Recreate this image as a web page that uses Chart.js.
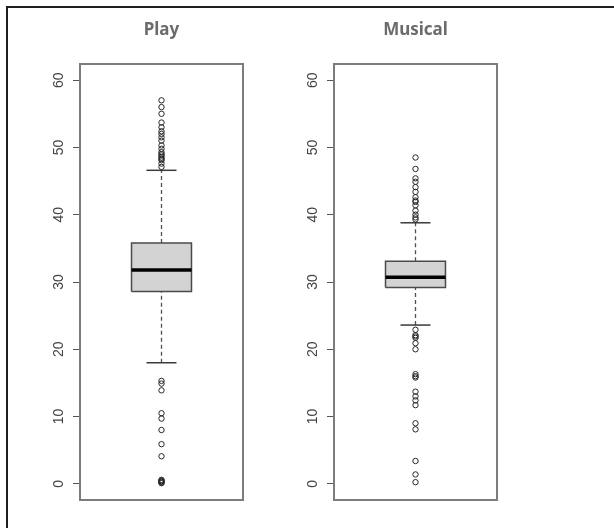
<!DOCTYPE html>
<html>
<head>
<meta charset="utf-8">
<script src="https://cdn.jsdelivr.net/npm/chart.js@4/dist/chart.umd.min.js"></script>
<style>
html,body{margin:0;padding:0;background:#fff;overflow:hidden;width:614px;height:528px;}
#frame{position:absolute;left:6px;top:6px;width:800px;height:800px;border:2px solid #1e1e1e;box-sizing:border-box;}
.panel{position:absolute;top:0;width:254px;height:528px;}
</style>
</head>
<body>
<div id="frame"></div>
<div class="panel" style="left:0px"><canvas id="c0"></canvas></div>
<div class="panel" style="left:254px"><canvas id="c1"></canvas></div>
<script>
// ---- data ----
const categories = ['Play', 'Musical'];
const lowerQuartile = [28.6, 29.2];
const medians = [31.8, 30.7];
const upperQuartile = [35.8, 33.1];
const whiskerLow = [18.0, 23.6];
const whiskerHigh = [46.6, 38.8];
const playOutliers = [57.0, 56.0, 55.0, 53.7, 53.0, 52.4, 52.0, 51.5, 51.0, 50.3, 49.8, 49.3, 49.0, 48.8, 48.5, 48.3, 48.1, 47.6, 47.1,
  15.3, 14.9, 13.9, 10.5, 9.7, 8.0, 5.9, 4.1, 0.6, 0.5, 0.4, 0.3, 0.2, 0.1];
const musicalOutliers = [48.5, 46.8, 45.4, 44.9, 44.1, 43.4, 42.6, 42.1, 41.9, 41.4, 40.6, 40.0, 39.6, 39.3,
  22.9, 22.1, 21.9, 21.7, 20.9, 20.0, 16.3, 16.0, 15.8, 13.7, 13.0, 12.4, 11.7, 9.0, 8.1, 3.4, 1.4, 0.25];
const outlierSets = [playOutliers, musicalOutliers];
const yTicks = [0, 10, 20, 30, 40, 50, 60];

// ---- geometry in x units (0..2 across each panel, box centred at 1) ----
const BOX_HALF = 0.368;
const CAP_HALF = 0.184;

const panelBox = {
  id: 'panelBox',
  afterDraw(chart) {
    const { ctx, chartArea: a } = chart;
    ctx.save();
    ctx.strokeStyle = '#7c7c7c';
    ctx.lineWidth = 2;
    ctx.strokeRect(a.left, a.top, a.right - a.left, a.bottom - a.top);
    ctx.restore();
  }
};

function makeChart(i) {
  const seg = (x0, x1, y0, y1) => [{ x: x0, y: y0 }, { x: x1, y: y1 }];
  const L = 1 - BOX_HALF, R = 1 + BOX_HALF;
  const q1 = lowerQuartile[i], q3 = upperQuartile[i];
  const lineBase = { type: 'line', pointRadius: 0, fill: false, tension: 0, showLine: true };
  return new Chart(document.getElementById('c' + i), {
    type: 'scatter',
    data: {
      datasets: [
        // box fill (from Q3 edge down to Q1)
        Object.assign({}, lineBase, { data: seg(L, R, q3, q3), borderWidth: 0, borderColor: 'rgba(0,0,0,0)',
          backgroundColor: '#d3d3d3', fill: { value: q1 }, order: 6 }),
        // box outline
        Object.assign({}, lineBase, { data: [{ x: L, y: q1 }, { x: R, y: q1 }, { x: R, y: q3 }, { x: L, y: q3 }, { x: L, y: q1 }],
          borderColor: '#4a4a4a', borderWidth: 1.5, borderJoinStyle: 'miter', order: 5 }),
        // dashed whiskers
        Object.assign({}, lineBase, { data: seg(1, 1, q3, whiskerHigh[i]),
          borderColor: '#505050', borderWidth: 1.3, borderDash: [4, 3], order: 4 }),
        Object.assign({}, lineBase, { data: seg(1, 1, whiskerLow[i], q1),
          borderColor: '#505050', borderWidth: 1.3, borderDash: [4, 3], order: 4 }),
        // whisker caps
        Object.assign({}, lineBase, { data: seg(1 - CAP_HALF, 1 + CAP_HALF, whiskerHigh[i], whiskerHigh[i]),
          borderColor: '#3a3a3a', borderWidth: 1.5, order: 3 }),
        Object.assign({}, lineBase, { data: seg(1 - CAP_HALF, 1 + CAP_HALF, whiskerLow[i], whiskerLow[i]),
          borderColor: '#3a3a3a', borderWidth: 1.5, order: 3 }),
        // median
        Object.assign({}, lineBase, { data: seg(L, R, medians[i], medians[i]),
          borderColor: '#000', borderWidth: 3.5, order: 2 }),
        // outliers
        { type: 'scatter', data: outlierSets[i].map(v => ({ x: 1, y: v })), showLine: false,
          pointRadius: 2.7, pointBorderWidth: 1, pointBorderColor: '#262626',
          pointBackgroundColor: 'rgba(0,0,0,0)', order: 1 }
      ]
    },
    options: {
      responsive: true,
      maintainAspectRatio: false,
      animation: false,
      layout: { padding: { left: 0, right: 11, top: 0, bottom: 28 } },
      plugins: {
        legend: { display: false },
        tooltip: { enabled: false },
        title: {
          display: true, text: categories[i], color: '#6b6b6b', fullSize: false,
          font: { family: "'Noto Sans', sans-serif", size: 17, weight: 'bold' },
          padding: { top: 19.8, bottom: 23.8 }
        }
      },
      scales: {
        x: { type: 'linear', min: 0, max: 2, offset: false, display: false },
        y: {
          type: 'linear', position: 'left', min: -2.4, max: 62.4,
          afterBuildTicks: (axis) => { axis.ticks = yTicks.map(v => ({ value: v })); },
          afterFit: (axis) => { axis.width = 80; },
          border: { display: false },
          grid: { drawOnChartArea: false, drawTicks: true, tickLength: 7, color: '#555', lineWidth: 1 },
          ticks: {
            minRotation: 90, maxRotation: 90, crossAlign: 'center', padding: 6,
            color: '#444', font: { family: "'Liberation Sans', Arial, sans-serif", size: 14 }
          }
        }
      }
    },
    plugins: [panelBox]
  });
}

makeChart(0);
makeChart(1);
</script>
</body>
</html>
